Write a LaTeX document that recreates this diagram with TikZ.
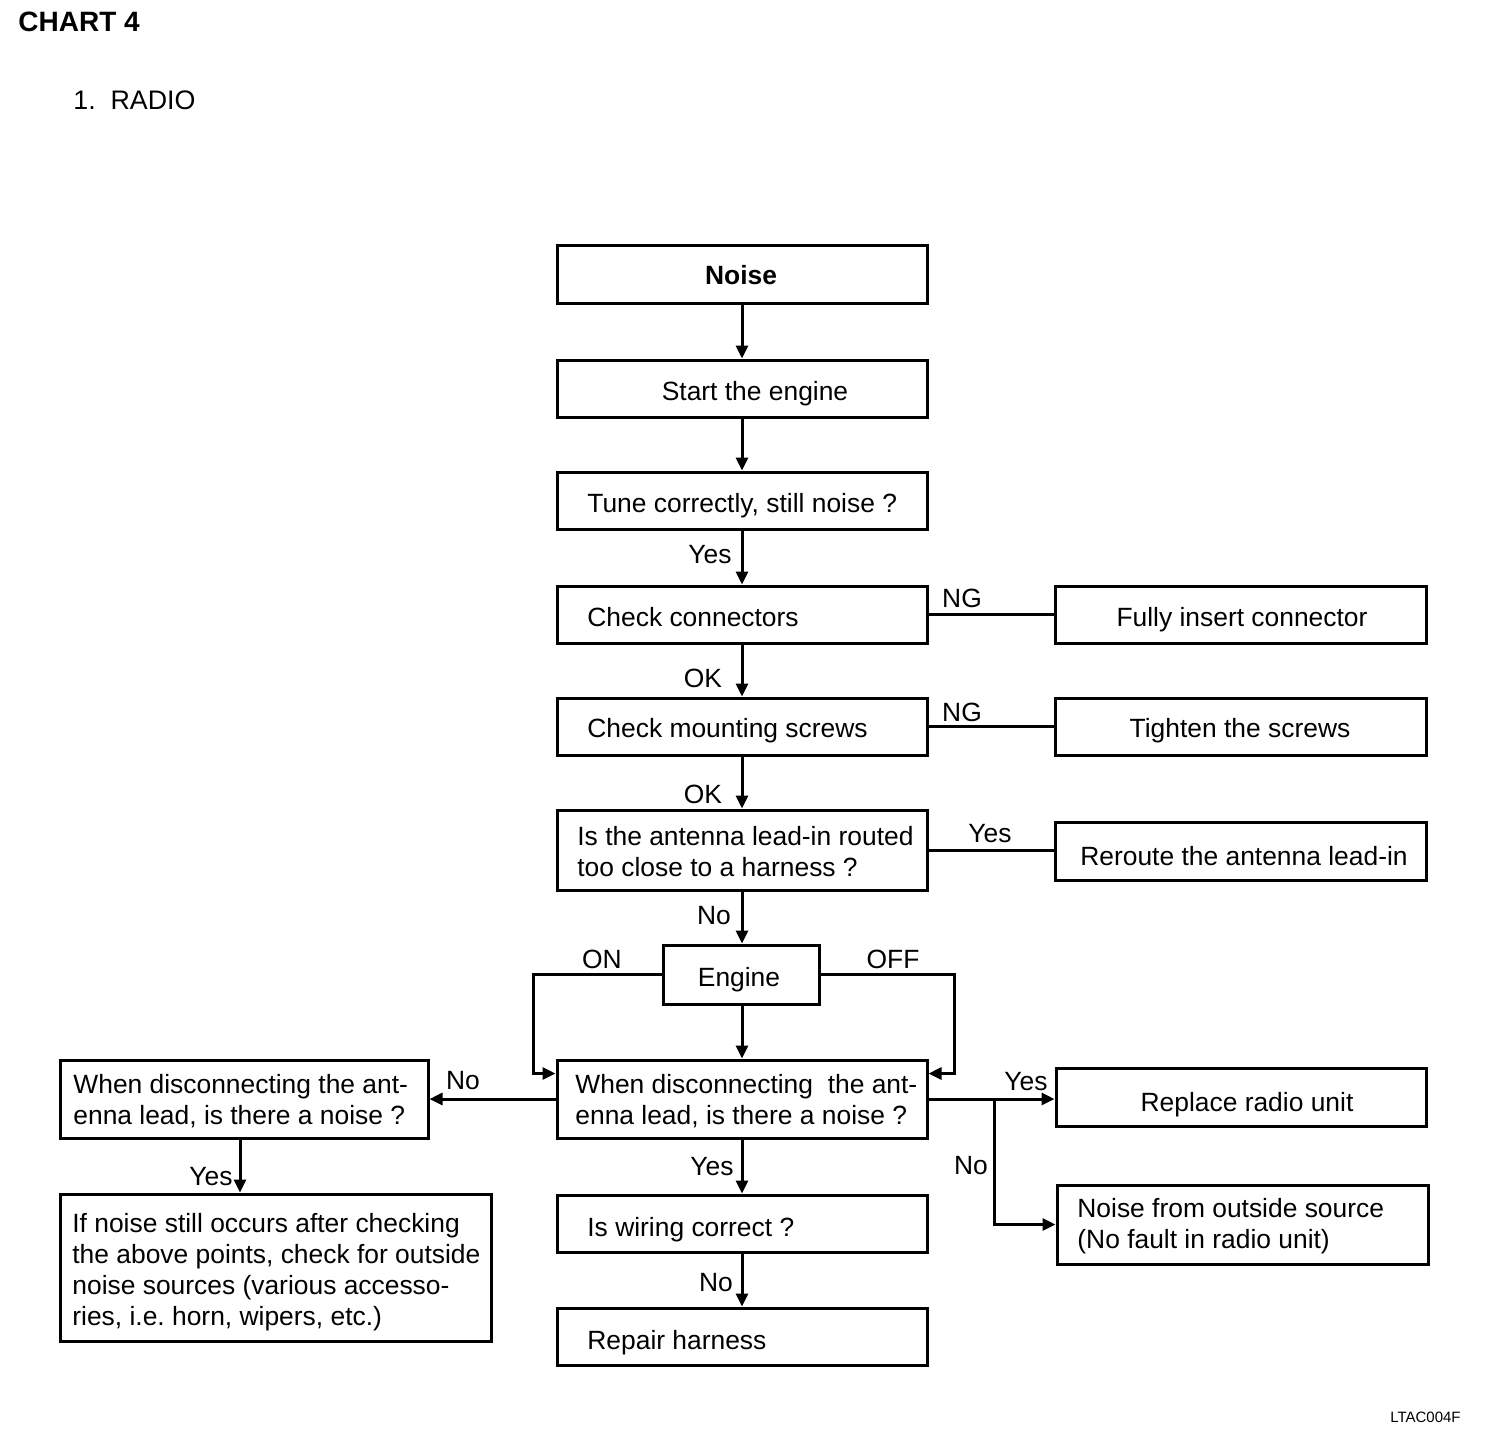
\documentclass[tikz,border=0pt]{standalone}
\usepackage{fontspec}
\setmainfont{Liberation Sans}
\usetikzlibrary{arrows.meta,calc}
\tikzset{
  box/.style={draw, line width=1.5pt, inner sep=0pt},
  txt/.style={inner sep=0pt, align=left, font=\fontsize{13.2}{15.5}\selectfont},
  lbl/.style={inner sep=0pt, font=\fontsize{13.2}{15.5}\selectfont},
  conn/.style={line width=1.5pt},
  arr/.style={line width=1.5pt, -{Triangle[length=6.5pt,width=6pt]}},
}
\begin{document}
\begin{tikzpicture}[x=0.5pt,y=-0.5pt]
\useasboundingbox[fill=white] (0,0) rectangle (1504,1442);
% titles
\node[txt, anchor=west, font=\bfseries\fontsize{14}{16}\selectfont] (title) at (18,22) {CHART 4};
\node[txt, anchor=west, font=\fontsize{13.4}{16}\selectfont] (sub) at (73,100) {1.\ \ RADIO};
\node[txt, anchor=east, font=\fontsize{7.5}{9}\selectfont] (code) at (1461,1417) {LTAC004F};
% boxes
\node[box, minimum width=185pt, minimum height=29pt]   (b1)  at (742,274)    {};
\node[box, minimum width=185pt, minimum height=28.5pt] (b2)  at (742,388.5)  {};
\node[box, minimum width=185pt, minimum height=28.5pt] (b3)  at (742,500.5)  {};
\node[box, minimum width=185pt, minimum height=28.5pt] (b4)  at (742,614.5)  {};
\node[box, minimum width=185.5pt, minimum height=28.5pt] (b5) at (1240.5,614.5) {};
\node[box, minimum width=185pt, minimum height=28.5pt] (b6)  at (742,726.5)  {};
\node[box, minimum width=185.5pt, minimum height=28.5pt] (b7) at (1240.5,726.5) {};
\node[box, minimum width=185pt, minimum height=40pt]   (b8)  at (742,850)    {};
\node[box, minimum width=185.5pt, minimum height=29pt] (b9)  at (1240.5,851) {};
\node[box, minimum width=78pt, minimum height=29.5pt]  (b10) at (741,974.5)  {};
\node[box, minimum width=185pt, minimum height=39pt]   (b11) at (742,1099)   {};
\node[box, minimum width=184pt, minimum height=39pt]   (b12) at (244,1099)   {};
\node[box, minimum width=215.5pt, minimum height=73.5pt] (b13) at (275.5,1267.5) {};
\node[box, minimum width=185pt, minimum height=29pt]   (b14) at (1241,1097)  {};
\node[box, minimum width=185.5pt, minimum height=39.5pt] (b15) at (1242.5,1224.5) {};
\node[box, minimum width=185pt, minimum height=28.5pt] (b16) at (742,1223.5) {};
\node[box, minimum width=185pt, minimum height=28.5pt] (b17) at (742,1336.5) {};
% texts
\node[txt, font=\bfseries\fontsize{13.2}{15.5}\selectfont] (t1) at (741,275) {Noise};
\node[txt] (t2) at (755,394) {Start the engine};
\node[txt, anchor=west] (t3) at (587,506) {Tune correctly, still noise ?};
\node[txt, anchor=west] (t4) at (587,617) {Check connectors};
\node[txt] (t5) at (1242,620) {Fully insert connector};
\node[txt, anchor=west] (t6) at (587,731) {Check mounting screws};
\node[txt] (t7) at (1240,731) {Tighten the screws};
\node[txt, anchor=west] (t8) at (577,852) {Is the antenna lead-in routed\\too close to a harness ?};
\node[txt] (t9) at (1244,856) {Reroute the antenna lead-in};
\node[txt] (t10) at (739,980) {Engine};
\node[txt, anchor=west] (t11) at (575,1101) {When disconnecting\ \ the ant-\\enna lead, is there a noise ?};
\node[txt, anchor=west] (t12) at (73,1101) {When disconnecting the ant-\\enna lead, is there a noise ?};
\node[txt, anchor=west] (t13) at (72,1272) {If noise still occurs after checking\\the above points, check for outside\\noise sources (various accesso-\\ries, i.e.\ horn, wipers, etc.)};
\node[txt] (t14) at (1247,1105) {Replace radio unit};
\node[txt, anchor=west] (t15) at (1077,1226) {Noise from outside source\\(No fault in radio unit)};
\node[txt, anchor=west] (t16) at (587,1230) {Is wiring correct ?};
\node[txt, anchor=west] (t17) at (587,1343) {Repair harness};
% connectors
\draw[arr] (b1.south) -- (b2.north);
\draw[arr] (b2.south) -- (b3.north);
\draw[arr] (b3.south) -- (b4.north);
\draw[arr] (b4.south) -- (b6.north);
\draw[arr] (b6.south) -- (b8.north);
\draw[arr] (b8.south) -- (b10.north -| b8.south);
\draw[arr] (b10.south -| b11.north) -- (b11.north);
\draw[arr] (b11.south) -- (b16.north);
\draw[arr] (b16.south) -- (b17.north);
\draw[conn] (b4.east) -- (b5.west);
\draw[conn] (b6.east) -- (b7.west);
\draw[conn] (b8.east) -- (b8.east -| b9.west);
\draw[arr] (b10.west) -| ([shift={(-22,15)}]b11.north west) -- ([yshift=-7.5pt]b11.north west);
\draw[arr] (b10.east) -| ([shift={(26,15)}]b11.north east) -- ([yshift=-7.5pt]b11.north east);
\draw[arr] (b11.west) -- (b12.east);
\draw[arr] (b11.east) -- (b11.east -| b14.west);
\coordinate (br) at ([xshift=33pt]b11.east);
\draw[arr] (br) |- (b15.west);
\draw[arr] ([xshift=-2pt]b12.south) -- ([xshift=-2pt]b12.south |- b13.north);
% labels
\node[lbl] (l1) at (710,555) {Yes};
\node[lbl] (l2) at (703,678) {OK};
\node[lbl] (l3) at (703,794) {OK};
\node[lbl] (l4) at (714,916) {No};
\node[lbl] (l5) at (962,598) {NG};
\node[lbl] (l6) at (962,712) {NG};
\node[lbl] (l7) at (990,834) {Yes};
\node[lbl] (l8) at (602,959) {ON};
\node[lbl] (l9) at (893,959) {OFF};
\node[lbl] (l10) at (463,1081) {No};
\node[lbl] (l11) at (1026,1082) {Yes};
\node[lbl] (l12) at (971,1166) {No};
\node[lbl] (l13) at (712,1167) {Yes};
\node[lbl] (l14) at (211,1177) {Yes};
\node[lbl] (l15) at (716,1283) {No};
\end{tikzpicture}
\end{document}
